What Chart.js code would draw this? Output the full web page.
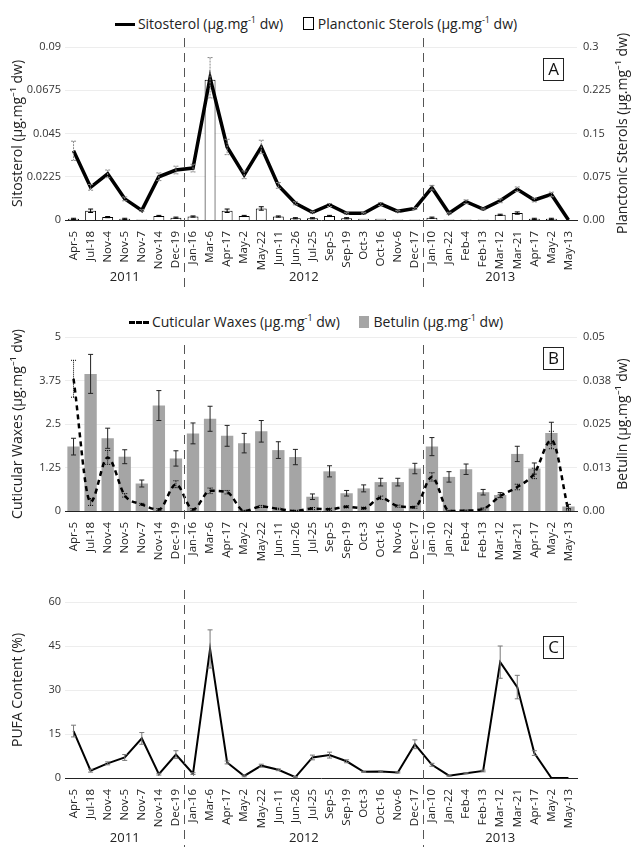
<!DOCTYPE html>
<html>
<head>
<meta charset="utf-8">
<script src="https://cdn.jsdelivr.net/npm/chart.js@4.4.1/dist/chart.umd.min.js"></script>
<style>
  body { margin: 0; background: #fff; font-family: "Open Sans", sans-serif; }
  #wrap { position: relative; width: 632px; height: 847px; overflow: hidden; }
  .panel { position: absolute; left: 0; width: 632px; }
  .legend { position: absolute; left: 0; width: 632px; text-align: center; font-size: 14px; color: #222; white-space: nowrap; line-height: 18px; }
  .legend sup { font-size: 9px; }
  .item { display: inline-block; margin: 0 8px; }
  .sym-line { display: inline-block; width: 20px; height: 0; border-top: 3px solid #000; vertical-align: middle; margin-right: 3px; }
  .sym-dash { display: inline-block; width: 20px; height: 0; border-top: 3px dashed #000; vertical-align: middle; margin-right: 3px; }
  .sym-box { display: inline-block; width: 9px; height: 11px; border: 1px solid #000; vertical-align: -1px; margin-right: 4px; }
  .sym-fill { display: inline-block; width: 10px; height: 12px; background: #a5a5a5; vertical-align: -1px; margin-right: 4px; }
</style>
</head>
<body>
<div id="wrap">
  <div class="legend" style="top:11px">
    <span class="item"><span class="sym-line"></span>Sitosterol (µg.mg<sup>-1</sup> dw)</span>
    <span class="item"><span class="sym-box"></span>Planctonic Sterols (µg.mg<sup>-1</sup> dw)</span>
  </div>
  <div class="legend" style="top:309px">
    <span class="item"><span class="sym-dash"></span>Cuticular Waxes (µg.mg<sup>-1</sup> dw)</span>
    <span class="item"><span class="sym-fill"></span>Betulin (µg.mg<sup>-1</sup> dw)</span>
  </div>
  <canvas id="chartA" class="panel" style="top:0" width="632" height="290"></canvas>
  <canvas id="chartB" class="panel" style="top:290px" width="632" height="275"></canvas>
  <canvas id="chartC" class="panel" style="top:555px" width="632" height="292"></canvas>
</div>
<script>
// --- DATOS ---
const fechas = ['Apr-5', 'Jul-18', 'Nov-4', 'Nov-5', 'Nov-7', 'Nov-14', 'Dec-19',
  'Jan-16', 'Mar-6', 'Apr-17', 'May-2', 'May-22', 'Jun-11', 'Jun-26', 'Jul-25', 'Sep-5',
  'Sep-19', 'Oct-3', 'Oct-16', 'Nov-6', 'Dec-17',
  'Jan-10', 'Jan-22', 'Feb-4', 'Feb-13', 'Mar-12', 'Mar-21', 'Apr-17', 'May-2', 'May-13'];
const anios = ['2011', '2012', '2013'];
const cortesAnio = [6.5, 20.5];

// panel A
const sitosterol = [0.036, 0.017, 0.024, 0.011, 0.005, 0.0225, 0.026, 0.027, 0.074, 0.038,
  0.0235, 0.038, 0.018, 0.0087, 0.004, 0.0078, 0.0035, 0.0035, 0.0083, 0.0045, 0.006,
  0.0168, 0.0035, 0.0095, 0.0057, 0.010, 0.016, 0.0104, 0.0133, 0];
const sitosterolErr = [0.005, 0.0015, 0.002, 0.001, 0.0005, 0.002, 0.002, 0.002, 0.0105, 0.004,
  0.002, 0.0035, 0.0015, 0.0008, 0.0005, 0.0008, 0.0005, 0.0005, 0.0008, 0.0005, 0.0005,
  0.0012, 0.0005, 0.001, 0.0005, 0.001, 0.0012, 0.001, 0.0012, 0];
const planctonicos = [0.002, 0.016, 0.005, 0.002, 0.001, 0.007, 0.004, 0.006, 0.243, 0.016,
  0.007, 0.02, 0.006, 0.003, 0.003, 0.007, 0.003, 0.002, 0.002, 0.001, 0.001,
  0.004, 0.001, 0.001, 0.001, 0.009, 0.012, 0.002, 0.002, 0];
const planctonicosErr = [0.001, 0.003, 0.001, 0.001, 0, 0.001, 0.001, 0.001, 0, 0.003,
  0.001, 0.003, 0.001, 0.001, 0.001, 0.001, 0.001, 0, 0, 0, 0,
  0.001, 0, 0, 0, 0.001, 0.002, 0.001, 0.001, 0];
const sitoTicks = [0, 0.0225, 0.045, 0.0675, 0.09];
const sitoTickLabels = ['0', '0.0225', '0.045', '0.0675', '0.09'];
const planTicks = [0, 0.075, 0.15, 0.225, 0.3];
const planTickLabels = ['0.00', '0.075', '0.15', '0.225', '0.3'];

// panel B
const ceras = [3.8, 0.26, 1.54, 0.45, 0.19, 0.04, 0.77, 0.04, 0.58, 0.54,
  0, 0.13, 0.06, 0, 0.07, 0.05, 0.12, 0.08, 0.38, 0.14, 0.11,
  0.98, 0, 0.01, 0.06, 0.43, 0.69, 1.08, 2.04, 0];
const cerasErr = [0.53, 0.1, 0.2, 0.05, 0.03, 0.03, 0.1, 0.03, 0.08, 0.05,
  0.02, 0.03, 0.02, 0.02, 0.03, 0.03, 0.03, 0.03, 0.05, 0.03, 0.03,
  0.12, 0.02, 0.02, 0.03, 0.05, 0.08, 0.15, 0.25, 0.05];
const betulina = [0.0185, 0.0394, 0.0209, 0.0156, 0.0079, 0.0303, 0.0151, 0.0223, 0.0265, 0.0216,
  0.0195, 0.0229, 0.0175, 0.0155, 0.0041, 0.0114, 0.0051, 0.0065, 0.0083, 0.0083, 0.0122,
  0.0185, 0.0098, 0.012, 0.0054, 0.0046, 0.0164, 0.0122, 0.0224, 0.0013];
const betulinaErr = [0.0024, 0.0056, 0.0029, 0.002, 0.001, 0.0043, 0.0022, 0.003, 0.0036, 0.003,
  0.0028, 0.0031, 0.0024, 0.0022, 0.0008, 0.0016, 0.0008, 0.001, 0.0011, 0.0011, 0.0015,
  0.0026, 0.0015, 0.0015, 0.0008, 0.0007, 0.0022, 0.0016, 0.0031, 0.0006];
const cerasTicks = [0, 1.25, 2.5, 3.75, 5];
const cerasTickLabels = ['0', '1.25', '2.5', '3.75', '5'];
const betulinaTicks = [0, 0.0125, 0.025, 0.0375, 0.05];
const betulinaTickLabels = ['0.00', '0.013', '0.025', '0.038', '0.05'];

// panel C
const pufa = [16, 2.5, 5, 7, 13.5, 1.3, 8, 1.5, 44, 5.3,
  0.7, 4.2, 2.8, 0.3, 7, 7.8, 5.7, 2.1, 2.2, 1.9, 11.5,
  4.5, 0.8, 1.6, 2.4, 39.5, 31, 8.5, 0, 0];
const pufaErr = [2, 0.5, 0.5, 1, 2, 0.3, 1.3, 0.3, 6.5, 0.5,
  0.3, 0.5, 0.3, 0.2, 0.8, 1, 0.5, 0.2, 0.2, 0.2, 1.5,
  0.5, 0.2, 0.2, 0.3, 5.5, 4, 0.8, 0, 0];
const pufaTicks = [0, 15, 30, 45, 60];

const FUENTE = '"Open Sans", sans-serif';

// --- PLUGIN: barras de error ---
const errorBars = {
    id: 'errorBars',
    afterDatasetsDraw(chart) {
        const ctx = chart.ctx;
        chart.data.datasets.forEach((ds, i) => {
            if (!ds.errors) return;
            const meta = chart.getDatasetMeta(i);
            const escala = chart.scales[meta.yAxisID];
            ctx.save();
            ctx.strokeStyle = ds.errorColor || '#333';
            ctx.lineWidth = 1;
            ctx.setLineDash(ds.errorDash || []);
            meta.data.forEach((el, j) => {
                const e = ds.errors[j];
                if (!e) return;
                const v = ds.data[j];
                const yTop = escala.getPixelForValue(v + e);
                const yBot = escala.getPixelForValue(Math.max(v - e, 0));
                const x = el.x;
                ctx.beginPath();
                ctx.moveTo(x, yTop); ctx.lineTo(x, yBot);
                ctx.moveTo(x - 2.5, yTop); ctx.lineTo(x + 2.5, yTop);
                ctx.moveTo(x - 2.5, yBot); ctx.lineTo(x + 2.5, yBot);
                ctx.stroke();
            });
            ctx.restore();
        });
    }
};

// --- PLUGIN: cortes de año, años, título derecho y letra del panel ---
const marcas = {
    id: 'marcas',
    afterDraw(chart, args, opts) {
        const ctx = chart.ctx;
        const x = chart.scales.x;
        const area = chart.chartArea;
        const cortes = cortesAnio.map(c => x.getPixelForValue(c));

        ctx.save();
        ctx.strokeStyle = '#555';
        ctx.lineWidth = 1;
        ctx.setLineDash([9, 6]);
        cortes.forEach(px => {
            ctx.beginPath();
            ctx.moveTo(Math.round(px) + 0.5, opts.lineaTop);
            ctx.lineTo(Math.round(px) + 0.5, chart.height);
            ctx.stroke();
        });
        ctx.setLineDash([]);

        if (opts.anios) {
            const bordes = [area.left, ...cortes, area.right];
            ctx.fillStyle = '#222';
            ctx.font = '13px ' + FUENTE;
            ctx.textAlign = 'center';
            ctx.textBaseline = 'middle';
            anios.forEach((a, i) => {
                ctx.fillText(a, (bordes[i] + bordes[i + 1]) / 2, opts.aniosY);
            });
        }

        // titulo del eje derecho, leído de abajo hacia arriba
        if (opts.tituloDer) {
            ctx.save();
            ctx.translate(623, (area.top + area.bottom) / 2);
            ctx.rotate(-Math.PI / 2);
            ctx.fillStyle = '#222';
            ctx.font = '14px ' + FUENTE;
            ctx.textAlign = 'center';
            ctx.textBaseline = 'middle';
            ctx.fillText(opts.tituloDer, 0, 0);
            ctx.restore();
        }

        // letra en caja
        ctx.strokeStyle = '#222';
        ctx.lineWidth = 1;
        ctx.strokeRect(543.5, opts.letraY + 0.5, 20, 22);
        ctx.fillStyle = '#111';
        ctx.font = '17px ' + FUENTE;
        ctx.textAlign = 'center';
        ctx.textBaseline = 'middle';
        ctx.fillText(opts.letra, 553.5, opts.letraY + 12);
        ctx.restore();
    }
};

function ejeY(ticks, etiquetas, titulo, lado, ancho, conGrid) {
    return {
        type: 'linear',
        position: lado,
        min: ticks[0],
        max: ticks[ticks.length - 1],
        afterBuildTicks: s => { s.ticks = ticks.map(v => ({ value: v })); },
        afterFit: s => { s.width = ancho; },
        ticks: {
            callback: (v, i) => etiquetas[i],
            color: '#333',
            font: { size: 11, family: FUENTE },
            padding: lado === 'left' ? 4 : 6
        },
        grid: { display: conGrid, color: '#ededed', drawTicks: false },
        border: { display: false },
        title: {
            display: titulo !== null,
            text: titulo || '',
            color: '#222',
            font: { size: 14, family: FUENTE },
            padding: { top: 10, bottom: 0 }
        }
    };
}

function ejeX(alto) {
    return {
        type: 'category',
        offset: true,
        afterFit: s => { s.height = alto; },
        grid: { display: false },
        border: { display: true, color: '#222', width: 1 },
        ticks: {
            autoSkip: false,
            maxRotation: 90,
            minRotation: 90,
            color: '#222',
            padding: 3,
            font: { size: 11.5, family: FUENTE }
        }
    };
}

const baseOpciones = {
    responsive: false,
    animation: false,
    plugins: { legend: { display: false }, tooltip: { enabled: false } }
};

// --- PANEL A ---
new Chart(document.getElementById('chartA'), {
    type: 'bar',
    data: {
        labels: fechas,
        datasets: [
            {
                type: 'line', label: 'Sitosterol', data: sitosterol, yAxisID: 'y', order: 0,
                borderColor: '#000', borderWidth: 3.5, pointRadius: 0, tension: 0,
                errors: sitosterolErr, errorColor: '#888', errorDash: [2, 1]
            },
            {
                label: 'Planctonic Sterols', data: planctonicos, yAxisID: 'y1', order: 1,
                backgroundColor: '#fff', borderColor: '#000', borderWidth: 1,
                barPercentage: 0.8, categoryPercentage: 0.8,
                errors: planctonicosErr, errorColor: '#000'
            }
        ]
    },
    options: {
        ...baseOpciones,
        layout: { padding: { top: 47, bottom: 0, left: 0, right: 0 } },
        scales: {
            x: ejeX(70),
            y: ejeY(sitoTicks, sitoTickLabels, 'Sitosterol (µg.mg⁻¹ dw)', 'left', 65, true),
            y1: ejeY(planTicks, planTickLabels, null, 'right', 55, false)
        },
        plugins: {
            ...baseOpciones.plugins,
            marcas: { lineaTop: 38, anios: true, aniosY: 277, letra: 'A', letraY: 58,
                      tituloDer: 'Planctonic Sterols (µg.mg⁻¹ dw)' }
        }
    },
    plugins: [errorBars, marcas]
});

// --- PANEL B ---
new Chart(document.getElementById('chartB'), {
    type: 'bar',
    data: {
        labels: fechas,
        datasets: [
            {
                type: 'line', label: 'Cuticular Waxes', data: ceras, yAxisID: 'y', order: 0,
                borderColor: '#000', borderWidth: 2.5, borderDash: [5, 4], pointRadius: 0, tension: 0.4,
                cubicInterpolationMode: 'monotone',
                errors: cerasErr, errorColor: '#000', errorDash: [1, 1]
            },
            {
                label: 'Betulin', data: betulina, yAxisID: 'y1', order: 1,
                backgroundColor: '#a5a5a5', borderWidth: 0,
                barPercentage: 0.85, categoryPercentage: 0.85,
                errors: betulinaErr, errorColor: '#222'
            }
        ]
    },
    options: {
        ...baseOpciones,
        layout: { padding: { top: 47, bottom: 0, left: 0, right: 0 } },
        scales: {
            x: ejeX(54),
            y: ejeY(cerasTicks, cerasTickLabels, 'Cuticular Waxes (µg.mg⁻¹ dw)', 'left', 65, true),
            y1: ejeY(betulinaTicks, betulinaTickLabels, null, 'right', 55, false)
        },
        plugins: {
            ...baseOpciones.plugins,
            marcas: { lineaTop: 55, anios: false, letra: 'B', letraY: 57,
                      tituloDer: 'Betulin (µg.mg⁻¹ dw)' }
        }
    },
    plugins: [errorBars, marcas]
});

// --- PANEL C ---
new Chart(document.getElementById('chartC'), {
    type: 'line',
    data: {
        labels: fechas,
        datasets: [{
            label: 'PUFA', data: pufa, yAxisID: 'y',
            borderColor: '#000', borderWidth: 2, pointRadius: 0, tension: 0,
            errors: pufaErr, errorColor: '#777'
        }]
    },
    options: {
        ...baseOpciones,
        layout: { padding: { top: 47, bottom: 0, left: 0, right: 55 } },
        scales: {
            x: ejeX(69),
            y: ejeY(pufaTicks, pufaTicks.map(String), 'PUFA Content (%)', 'left', 65, true)
        },
        plugins: {
            ...baseOpciones.plugins,
            marcas: { lineaTop: 35, anios: true, aniosY: 283, letra: 'C', letraY: 81 }
        }
    },
    plugins: [errorBars, marcas]
});
</script>
</body>
</html>
